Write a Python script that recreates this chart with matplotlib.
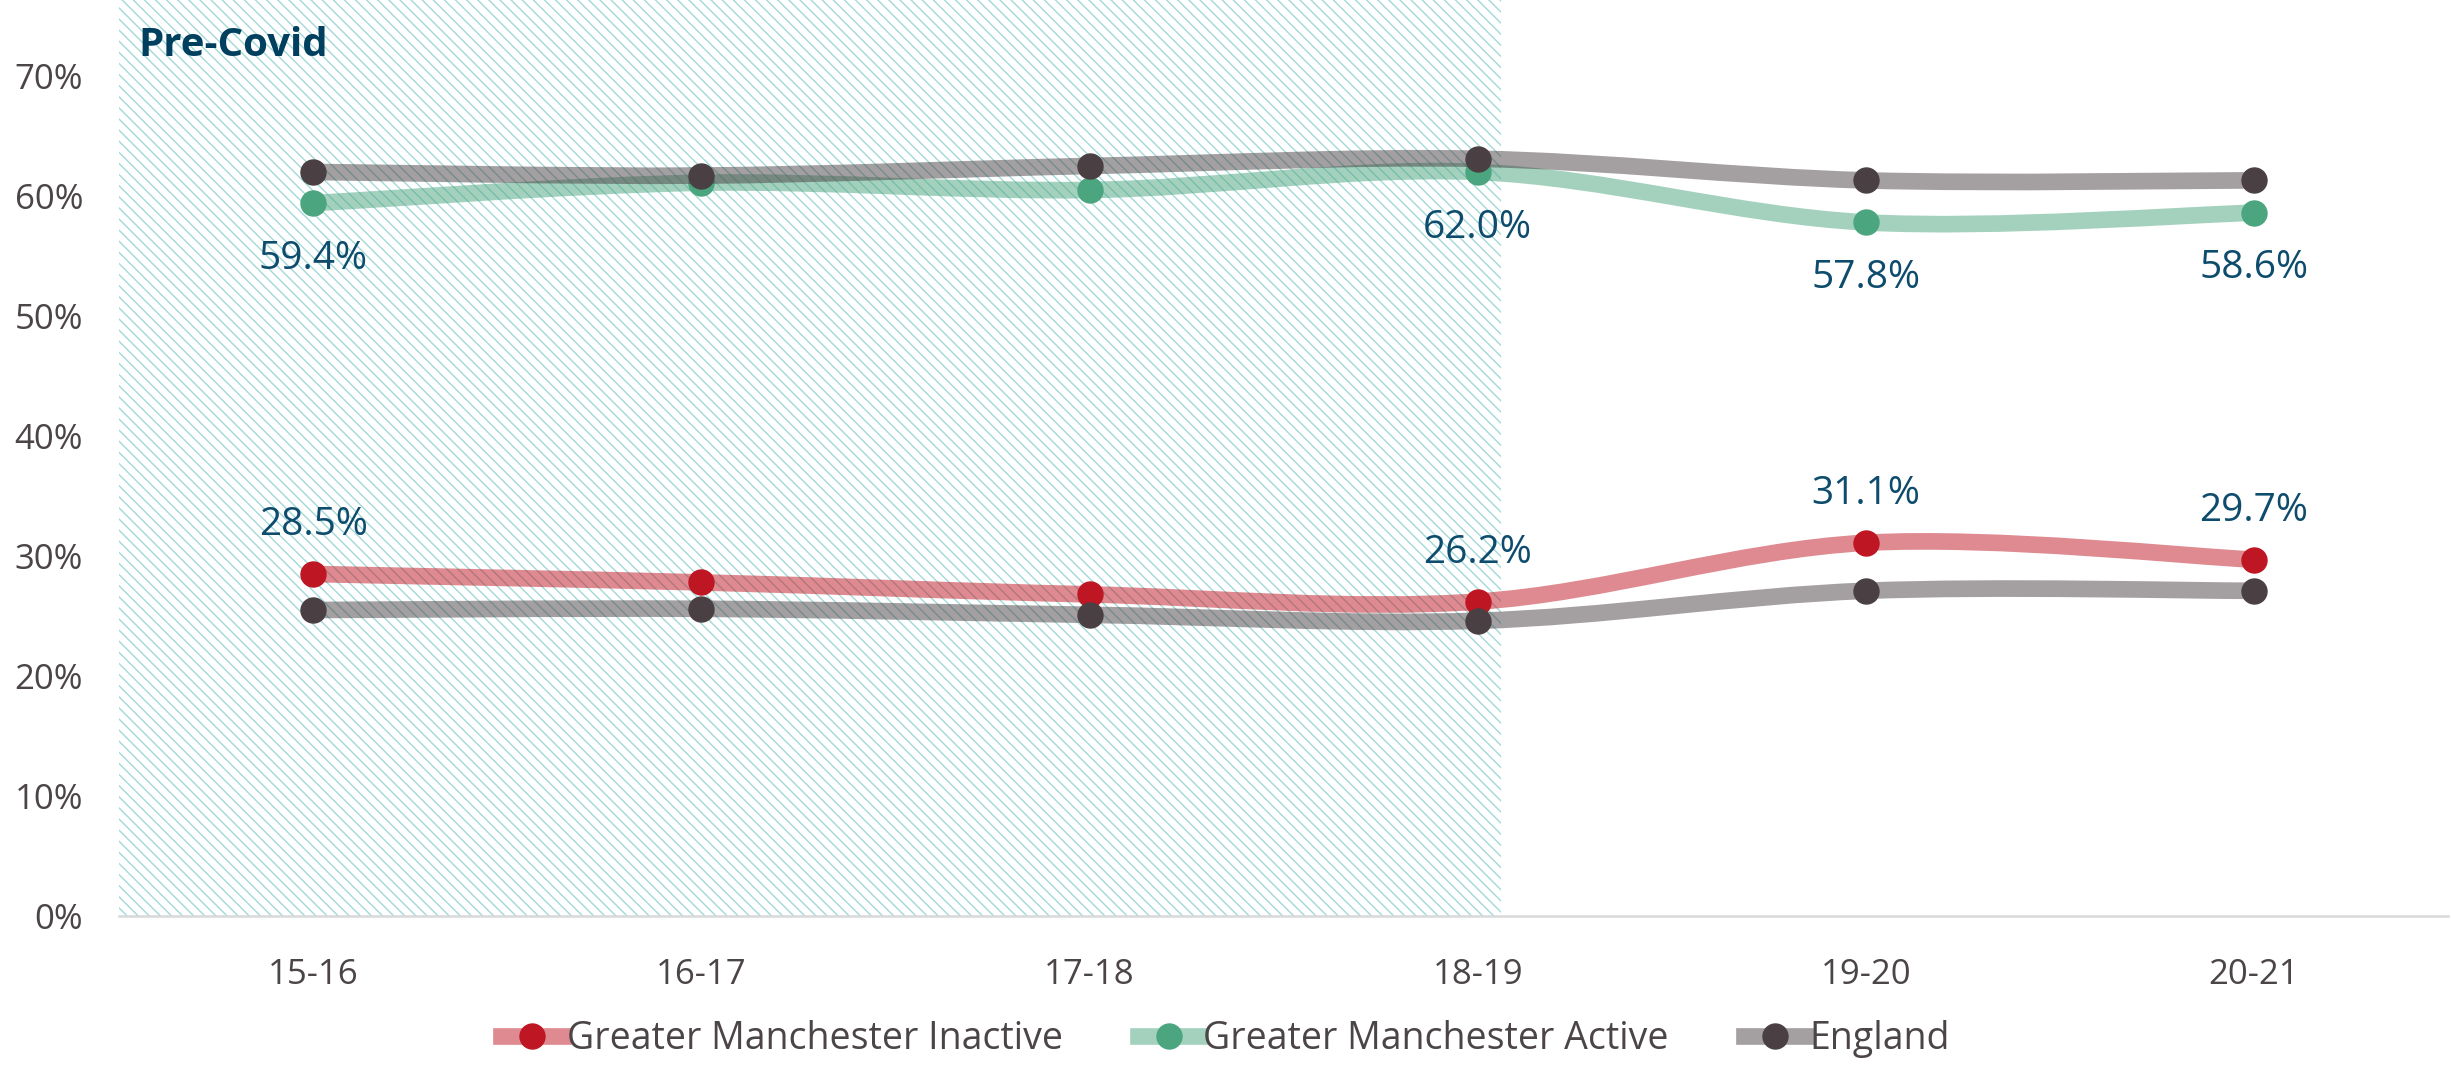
"""
Physical activity levels, Greater Manchester vs England, 2015-16 to 2020-21.

Smoothed lines (Bezier through the yearly points), with the pre-Covid years
shaded by a hatched band.
"""

import numpy as np
import matplotlib
matplotlib.use("Agg")
import matplotlib.pyplot as plt
from matplotlib.path import Path
from matplotlib.patches import PathPatch
from matplotlib.lines import Line2D
from matplotlib.ticker import PercentFormatter

plt.rcParams["font.family"] = ["Open Sans", "DejaVu Sans"]
plt.rcParams["hatch.linewidth"] = 1.0

years = ["15-16", "16-17", "17-18", "18-19", "19-20", "20-21"]

gm_inactive = [28.5, 27.8, 26.8, 26.2, 31.1, 29.7]
gm_active = [59.4, 61.1, 60.5, 62.0, 57.8, 58.6]
eng_inactive = [25.5, 25.6, 25.1, 24.6, 27.1, 27.1]
eng_active = [62.0, 61.7, 62.5, 63.1, 61.3, 61.3]

# which points carry a value label
labelled = [0, 3, 4, 5]
precovid_end = 3.06   # band edge, in category units

RED = "#BE1622"
GREEN = "#4BA57F"
GREY = "#4A4043"
LABEL_COL = "#0E4C6D"
TICK_COL = "#4B4547"


def smooth_path(xs, ys, k=1 / 6):
    """Cubic Bezier path through the points (Catmull-Rom style tangents)."""
    pts = np.column_stack([xs, ys]).astype(float)
    n = len(pts)
    verts = [pts[0]]
    codes = [Path.MOVETO]
    for i in range(n - 1):
        p_prev = pts[max(i - 1, 0)]
        p0, p1 = pts[i], pts[i + 1]
        p_next = pts[min(i + 2, n - 1)]
        c1 = p0 + (p1 - p_prev) * k
        c2 = p1 - (p_next - p0) * k
        verts += [c1, c2, p1]
        codes += [Path.CURVE4] * 3
    return Path(verts, codes)


def draw_series(ax, xs, vals, color, zorder):
    ys = np.asarray(vals) / 100
    patch = PathPatch(smooth_path(xs, ys), fill=False, edgecolor=color,
                      alpha=0.5, lw=12, capstyle="butt", joinstyle="round",
                      zorder=zorder)
    ax.add_patch(patch)
    ax.plot(xs, ys, "o", ms=18, color=color, mec=color, zorder=zorder + 0.5)


fig = plt.figure(figsize=(24.51, 10.67), dpi=100)
ax = fig.add_axes([0.0486, 0.1415, 0.9502, 0.8585])

x = np.arange(len(years))
ax.set_xlim(-0.5, len(years) - 0.5)
ax.set_ylim(0, 0.7633)

ax.axvspan(-0.5, precovid_end, facecolor="white", edgecolor="#A3D8D8",
           hatch="\\\\\\", lw=0, zorder=0)
ax.text(-0.45, 0.725, "Pre-Covid", fontsize=29, fontweight="bold",
        color="#003F5E", va="center", ha="left")

draw_series(ax, x, gm_inactive, RED, 2)
draw_series(ax, x, eng_inactive, GREY, 3)
draw_series(ax, x, gm_active, GREEN, 4)
draw_series(ax, x, eng_active, GREY, 5)

for i in labelled:
    ax.annotate(f"{gm_inactive[i]:.1f}%", (x[i], gm_inactive[i] / 100),
                xytext=(0, 35), textcoords="offset points",
                ha="center", va="center", fontsize=28, color=LABEL_COL)
    ax.annotate(f"{gm_active[i]:.1f}%", (x[i], gm_active[i] / 100),
                xytext=(0, -40), textcoords="offset points",
                ha="center", va="center", fontsize=28, color=LABEL_COL)

ax.set_xticks(x, years)
ax.set_yticks(np.arange(0, 0.71, 0.1))
ax.yaxis.set_major_formatter(PercentFormatter(1.0, decimals=0))
ax.tick_params(axis="both", length=0, labelsize=25, colors=TICK_COL)
ax.tick_params(axis="x", pad=30)
ax.tick_params(axis="y", pad=26)
for side in ("top", "right", "left"):
    ax.spines[side].set_visible(False)
ax.spines["bottom"].set_color("#D9D9D9")
ax.spines["bottom"].set_linewidth(1.8)


def legend_handle(color):
    rgb = matplotlib.colors.to_rgb(color)
    return Line2D([0], [0], color=(*rgb, 0.5), lw=12, marker="o", ms=18,
                  markerfacecolor=color, markeredgecolor=color)


handles = [legend_handle(RED), legend_handle(GREEN), legend_handle(GREY)]
names = ["Greater Manchester Inactive", "Greater Manchester Active", "England"]
fig.legend(handles, names, loc="center", bbox_to_anchor=(0.5, 0.026),
           ncol=3, frameon=False, fontsize=27, labelcolor=TICK_COL,
           handlelength=1.65, handletextpad=0.1, columnspacing=2.0)

fig.savefig("out.png", dpi=100)
